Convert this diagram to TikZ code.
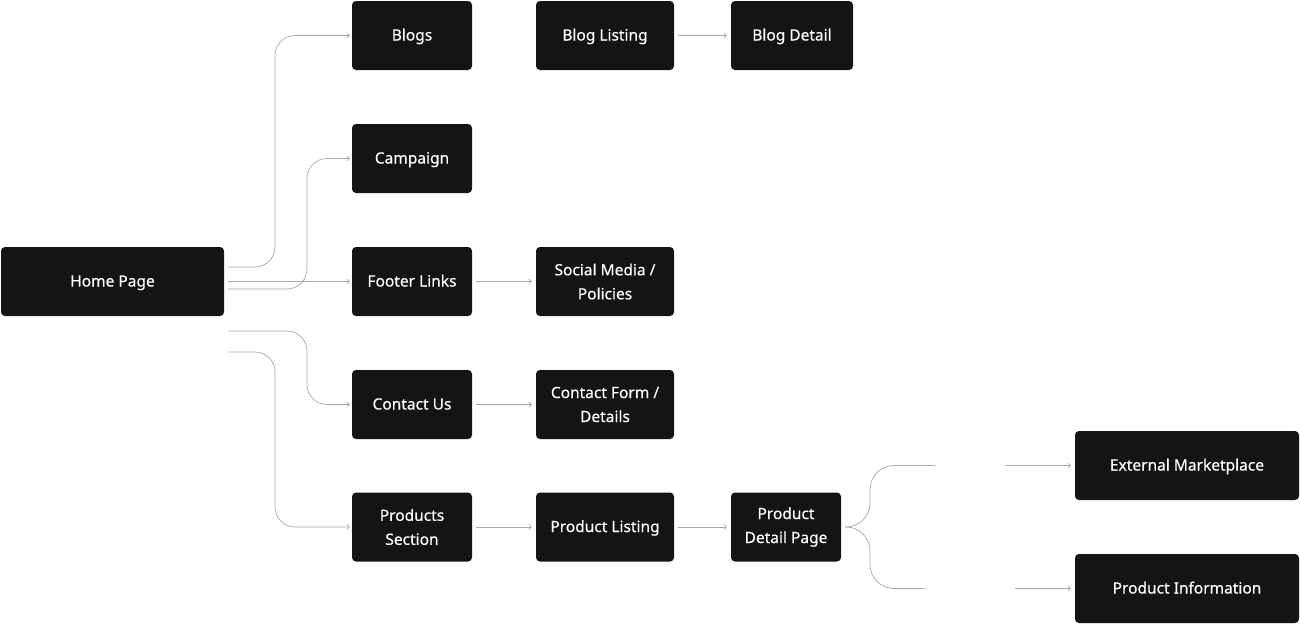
\documentclass[tikz,border=0pt]{standalone}
\usepackage{fontspec}
\setmainfont{Noto Sans}
\newfontfamily\boxfont{Noto Sans}[FakeBold=0.35]
\usetikzlibrary{arrows.meta,calc}
\definecolor{boxc}{HTML}{141414}
\definecolor{linec}{HTML}{A8A8A8}
\tikzset{
  pbox/.style={fill=boxc, draw=none, rounded corners=4pt, text=white, inner sep=0pt,
    minimum height=69pt, align=center, font=\boxfont\fontsize{15.5}{24}\selectfont},
  one/.style={text height=12pt, text depth=2pt},
  conn/.style={draw=linec, line width=0.7pt},
  arr/.style={conn, -{Straight Barb[length=2.5pt,width=5pt]}},
  lbl/.style={text=white, inner sep=3pt, text height=12pt, text depth=2pt, font=\boxfont\fontsize{15.5}{20}\selectfont}
}
\begin{document}
\begin{tikzpicture}[x=1pt,y=-1pt]
\useasboundingbox (0,0) rectangle (1300,624);
\node[pbox, one, minimum width=223pt] (home) at (112.5,281.5) {Home Page};
\node[pbox, one, minimum width=120pt] (blogs) at (412,35.5) {Blogs};
\node[pbox, one, minimum width=120pt] (campaign) at (412,158.5) {Campaign};
\node[pbox, one, minimum width=120pt] (footer) at (412,281.5) {Footer Links};
\node[pbox, one, minimum width=120pt] (contact) at (412,404.5) {Contact Us};
\node[pbox, minimum width=120pt] (products) at (412,527) {Products\\Section};
\node[pbox, one, minimum width=138pt] (bloglist) at (605,35.5) {Blog Listing};
\node[pbox, one, minimum width=122pt] (blogdetail) at (792,35.5) {Blog Detail};
\node[pbox, minimum width=138pt] (social) at (605,281.5) {Social Media /\\Policies};
\node[pbox, minimum width=138pt] (cform) at (605,404.5) {Contact Form /\\Details};
\node[pbox, one, minimum width=138pt] (plist) at (605,527) {Product Listing};
\node[pbox, minimum width=110pt] (pdetail) at (786,527) {Product\\Detail Page};
\node[pbox, one, minimum width=224pt] (ext) at (1187,465.5) {External Marketplace};
\node[pbox, one, minimum width=224pt] (pinfo) at (1187,588.5) {Product Information};
\node[lbl] (buy) at (970,465.5) {Buy Now};
\node[lbl] (learn) at (970,588.5) {Learn More};
% from home
\coordinate (h1) at ([xshift=4pt,yshift=14.5pt]home.east);
\coordinate (h2) at ([xshift=4pt,yshift=-7.5pt]home.east);
\coordinate (h3) at ([xshift=4pt]home.east);
\coordinate (h4) at ([xshift=4pt,yshift=-49.5pt]home.east);
\coordinate (h5) at ([xshift=4pt,yshift=-70.5pt]home.east);
\draw[arr, rounded corners=20pt] (h1) -- (275,267) |- ([xshift=-2pt]blogs.west);
\draw[arr, rounded corners=20pt] (h2) -- (307,289) |- ([xshift=-2pt]campaign.west);
\draw[arr] (h3) -- ([xshift=-2pt]footer.west);
\draw[arr, rounded corners=20pt] (h4) -- (307,331) |- ([xshift=-2pt]contact.west);
\draw[arr, rounded corners=20pt] (h5) -- (275,352) |- ([xshift=-2pt]products.west);
% horizontal
\draw[arr] ([xshift=4pt]footer.east) -- ([xshift=-4pt]social.west);
\draw[arr] ([xshift=4pt]contact.east) -- ([xshift=-4pt]cform.west);
\draw[arr] ([xshift=4pt]products.east) -- ([xshift=-4pt]plist.west);
\draw[arr] ([xshift=4pt]bloglist.east) -- ([xshift=-4pt]blogdetail.west);
\draw[arr] ([xshift=4pt]plist.east) -- ([xshift=-4pt]pdetail.west);
% branches
\draw[conn, rounded corners=24pt] ([xshift=4pt]pdetail.east) -- (870,527) |- (buy.west);
\draw[conn, rounded corners=24pt] ([xshift=4pt]pdetail.east) -- (870,527) |- (learn.west);
\draw[arr] (buy.east) -- ([xshift=-4pt]ext.west);
\draw[arr] (learn.east) -- ([xshift=-4pt]pinfo.west);
\end{tikzpicture}
\end{document}
